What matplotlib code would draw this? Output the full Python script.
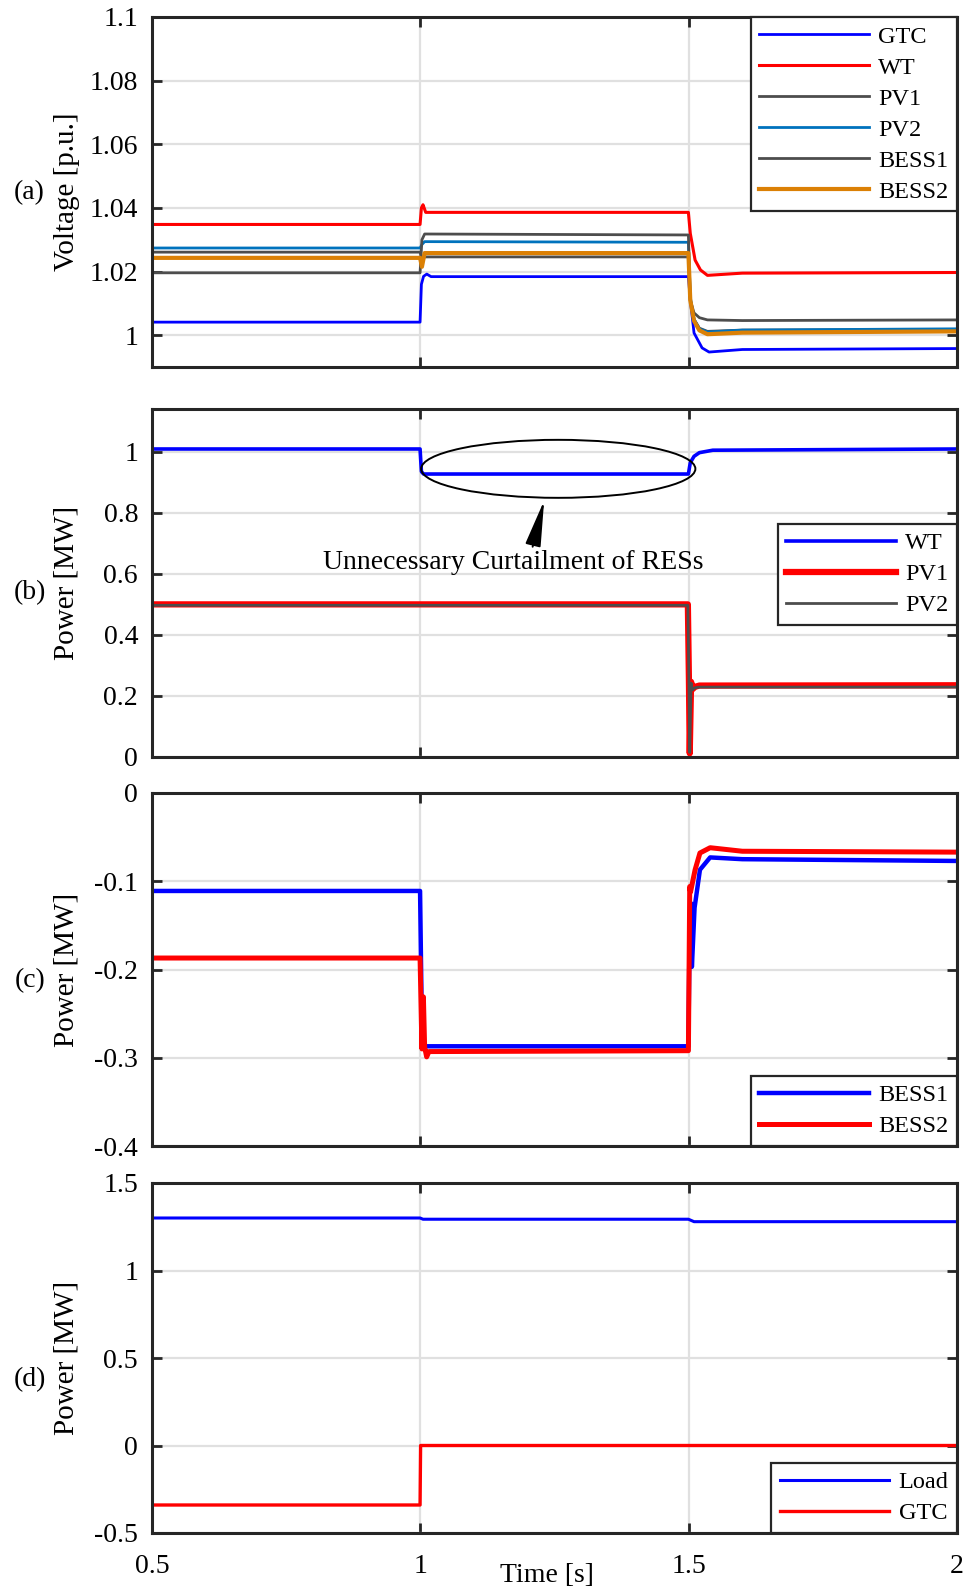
import matplotlib
matplotlib.use("Agg")
import matplotlib.pyplot as plt
from matplotlib.patches import Ellipse
from matplotlib.ticker import FuncFormatter

plt.rcParams['font.family'] = ['Liberation Serif', 'DejaVu Serif']
plt.rcParams['axes.unicode_minus'] = False

# ---- (a) bus voltages [p.u.]
t_gtc_v = [0.5, 0.9995, 1.002, 1.006, 1.012, 1.02, 1.4995, 1.503, 1.51, 1.525, 1.538, 1.6, 2.0]
gtc_v = [1.0041, 1.0041, 1.0160, 1.0185, 1.0192, 1.0184, 1.0184, 1.0111, 1.0007, 0.9960, 0.9947, 0.9955, 0.9958]
t_wt_v = [0.5, 0.9995, 1.002, 1.005, 1.01, 1.4995, 1.503, 1.512, 1.522, 1.535, 1.6, 2.0]
wt_v = [1.0348, 1.0348, 1.0400, 1.0410, 1.0386, 1.0386, 1.0320, 1.0236, 1.0205, 1.0188, 1.0195, 1.0197]
t_res_v = [0.5, 0.9995, 1.003, 1.008, 1.4995, 1.503, 1.51, 1.52, 1.535, 1.6, 2.0]
pv1_v = [1.0261, 1.0261, 1.0240, 1.0246, 1.0246, 1.0110, 1.0050, 1.0022, 1.0012, 1.0016, 1.0018]
pv2_v = [1.0274, 1.0274, 1.0285, 1.0294, 1.0292, 1.0120, 1.0050, 1.0020, 1.0010, 1.0016, 1.0020]
bess1_v = [1.0196, 1.0196, 1.0300, 1.0318, 1.0315, 1.0110, 1.0070, 1.0055, 1.0048, 1.0046, 1.0048]
bess2_v = [1.0243, 1.0243, 1.0215, 1.0258, 1.0258, 1.0110, 1.0045, 1.0015, 1.0003, 1.0008, 1.0012]

# ---- (b) RES active power [MW]
t_wt_p = [0.5, 0.9995, 1.002, 1.006, 1.4995, 1.503, 1.51, 1.52, 1.545, 2.0]
wt_p = [1.009, 1.009, 0.935, 0.927, 0.927, 0.964, 0.985, 0.997, 1.005, 1.009]
t_pv_p = [0.5, 1.4985, 1.5005, 1.502, 1.5045, 1.507, 1.512, 1.52, 2.0]
pv1_p = [0.500, 0.500, 0.250, 0.012, 0.246, 0.222, 0.230, 0.234, 0.235]
pv2_p = [0.497, 0.497, 0.250, 0.015, 0.242, 0.220, 0.227, 0.229, 0.229]

# ---- (c) BESS active power [MW]
t_b1 = [0.5, 0.9995, 1.003, 1.006, 1.4995, 1.502, 1.5045, 1.506, 1.511, 1.521, 1.54, 1.6, 2.0]
bess1_p = [-0.111, -0.111, -0.270, -0.287, -0.287, -0.140, -0.125, -0.197, -0.130, -0.087, -0.073, -0.075, -0.077]
t_b2 = [0.5, 0.9995, 1.003, 1.0057, 1.008, 1.0118, 1.016, 1.4995, 1.502, 1.5035, 1.512, 1.521, 1.54, 1.6, 2.0]
bess2_p = [-0.187, -0.187, -0.290, -0.231, -0.288, -0.299, -0.293, -0.292, -0.106, -0.112, -0.087, -0.068, -0.062, -0.066, -0.067]

# ---- (d) load and GTC power [MW]
t_load = [0.5, 0.9995, 1.005, 1.4995, 1.51, 2.0]
load_p = [1.300, 1.300, 1.293, 1.293, 1.279, 1.279]
t_gtc_p = [0.5, 0.9995, 1.0005, 2.0]
gtc_p = [-0.34, -0.34, 0.0, 0.0]

GRAY = '#4D4D4D'
PV2C = '#0072BD'
ORANGE = '#DB8005'
FRAME = '#262626'
FS = 20

W, H = 964, 1587
fig = plt.figure(figsize=(W / 100, H / 100), dpi=100)

# axes boxes in pixels: top, bottom
boxes = [(17, 367), (409, 757), (793, 1146), (1183, 1533)]
left, right = 152, 957
axes = []
for top, bot in boxes:
    ax = fig.add_axes([left / W, 1 - bot / H, (right - left) / W, (bot - top) / H])
    axes.append(ax)

fmt = FuncFormatter(lambda v, p: '%g' % round(v, 4))


def style(ax, ylim, yticks, ylabel, tag, tag_dy, last=False):
    ax.set_xlim(0.5, 2)
    ax.set_ylim(*ylim)
    ax.set_xticks([0.5, 1, 1.5, 2])
    ax.set_yticks(yticks)
    ax.yaxis.set_major_formatter(fmt)
    ax.xaxis.set_major_formatter(fmt)
    ax.grid(True, color='#E0E0E0', lw=1.6)
    ax.set_axisbelow(True)
    ax.tick_params(direction='in', length=7, width=2, top=True, right=True,
                   labelsize=FS, color=FRAME, pad=10)
    ax.tick_params(axis='x', pad=15)
    if not last:
        ax.tick_params(labelbottom=False)
    for s in ax.spines.values():
        s.set_linewidth(2.2)
        s.set_color(FRAME)
        s.set_zorder(5)
    ax.text(-0.106, 0.5, ylabel, transform=ax.transAxes, rotation=90,
            ha='center', va='center', fontsize=21)
    ax.text(-0.152, 0.5 - tag_dy, tag, transform=ax.transAxes,
            ha='center', va='center', fontsize=FS)


def legend(ax, **kw):
    lg = ax.legend(fontsize=17.5, fancybox=False, framealpha=1, edgecolor=FRAME,
                   borderaxespad=0, handlelength=4.5, handletextpad=0.4,
                   borderpad=0.35, labelspacing=0.37, **kw)
    lg.get_frame().set_linewidth(1.6)
    lg.set_zorder(6)
    return lg


# (a)
ax = axes[0]
ax.plot(t_gtc_v, gtc_v, color='#0000FF', lw=2, label='GTC')
ax.plot(t_wt_v, wt_v, color='#FF0000', lw=2.2, label='WT')
ax.plot(t_res_v, pv1_v, color=GRAY, lw=2, label='PV1')
ax.plot(t_res_v, pv2_v, color=PV2C, lw=2, label='PV2')
ax.plot(t_res_v, bess1_v, color=GRAY, lw=2, label='BESS1')
ax.plot(t_res_v, bess2_v, color=ORANGE, lw=3, label='BESS2')
style(ax, (0.99, 1.1), [1, 1.02, 1.04, 1.06, 1.08, 1.1], 'Voltage [p.u.]', '(a)', 0.003)
legend(ax, loc='upper right')

# (b)
ax = axes[1]
ax.plot(t_wt_p, wt_p, color='#0000FF', lw=2.6, label='WT')
ax.plot(t_pv_p, pv1_p, color='#FF0000', lw=4.5, label='PV1')
ax.plot(t_pv_p, pv2_p, color=GRAY, lw=2, label='PV2')
style(ax, (0, 1.14), [0, 0.2, 0.4, 0.6, 0.8, 1], 'Power [MW]', '(b)', 0.029)
legend(ax, loc='upper right', bbox_to_anchor=(1, 0.67))
ax.add_patch(Ellipse((1.257, 0.944), 0.511, 0.19, fill=False, ec='black', lw=1.4, zorder=4))
ax.annotate('', xy=(1.232, 0.849), xytext=(1.208, 0.68),
            arrowprops=dict(arrowstyle='-|>,head_length=1.3,head_width=0.22',
                            color='black', lw=1.4, mutation_scale=22))
ax.text(1.173, 0.636, 'Unnecessary Curtailment of RESs', ha='center', va='center',
        fontsize=FS)

# (c)
ax = axes[2]
ax.plot(t_b1, bess1_p, color='#0000FF', lw=3.2, label='BESS1')
ax.plot(t_b2, bess2_p, color='#FF0000', lw=3.6, label='BESS2')
style(ax, (-0.4, 0), [-0.4, -0.3, -0.2, -0.1, 0], 'Power [MW]', '(c)', 0.031)
legend(ax, loc='lower right')

# (d)
ax = axes[3]
ax.plot(t_load, load_p, color='#0000FF', lw=2.2, label='Load')
ax.plot(t_gtc_p, gtc_p, color='#FF0000', lw=2.4, label='GTC')
style(ax, (-0.5, 1.5), [-0.5, 0, 0.5, 1, 1.5], 'Power [MW]', '(d)', 0.063, last=True)
legend(ax, loc='lower right')
ax.text(0.49, -0.12, 'Time [s]', transform=ax.transAxes, ha='center', va='center',
        fontsize=FS)

fig.savefig('out.png', dpi=100)
